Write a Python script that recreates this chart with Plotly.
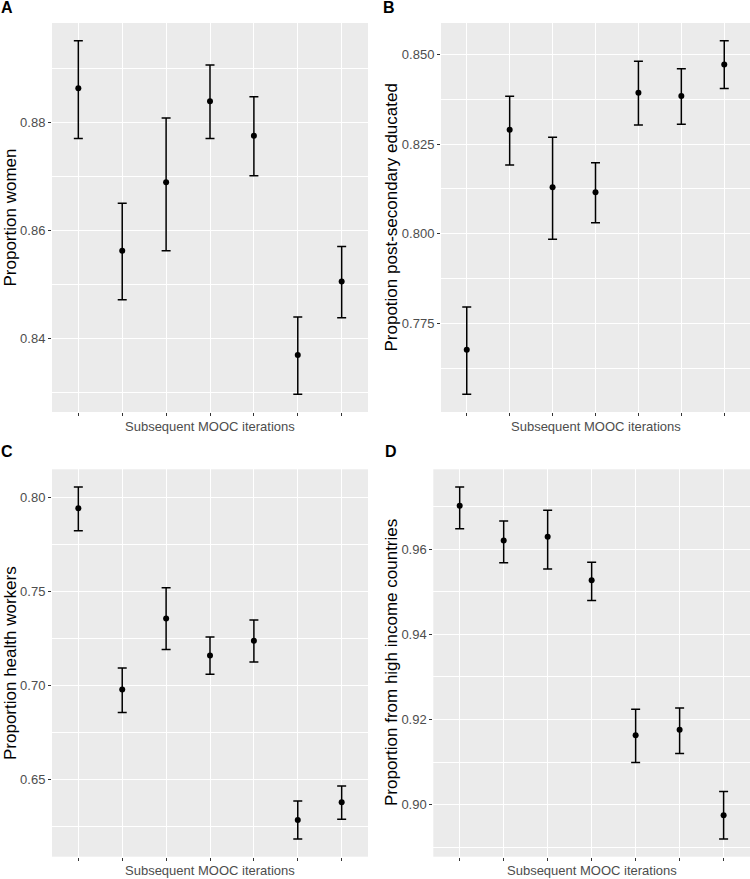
import plotly.graph_objects as go

# ---- data ----
iterations = [1, 2, 3, 4, 5, 6, 7]

women_mean = [0.8863, 0.8562, 0.8689, 0.8839, 0.8775, 0.8369, 0.8505]
women_lower = [0.8770, 0.8471, 0.8562, 0.8770, 0.8701, 0.8296, 0.8438]
women_upper = [0.8951, 0.8650, 0.8808, 0.8906, 0.8847, 0.8439, 0.8570]

edu_mean = [0.7677, 0.8290, 0.8130, 0.8116, 0.8393, 0.8384, 0.8472]
edu_lower = [0.7553, 0.8192, 0.7985, 0.8031, 0.8303, 0.8305, 0.8405]
edu_upper = [0.7796, 0.8383, 0.8269, 0.8198, 0.8481, 0.8460, 0.8538]

health_mean = [0.7943, 0.6977, 0.7356, 0.7159, 0.7237, 0.6283, 0.6377]
health_lower = [0.7823, 0.6855, 0.7190, 0.7058, 0.7124, 0.6181, 0.6287]
health_upper = [0.8056, 0.7092, 0.7519, 0.7257, 0.7347, 0.6384, 0.6464]

income_mean = [0.9702, 0.9620, 0.9629, 0.9527, 0.9163, 0.9176, 0.8975]
income_lower = [0.9648, 0.9568, 0.9553, 0.9479, 0.9099, 0.9120, 0.8919]
income_upper = [0.9746, 0.9666, 0.9691, 0.9569, 0.9224, 0.9227, 0.9031]

x_title = "Subsequent MOOC iterations"
panel_labels = ["A", "B", "C", "D"]
y_titles = ["Proportion women", "Propotion post-secondary educated",
            "Proportion health workers", "Proportion from high income countries"]
# (tick0, major step, minor step, tick format)
y_ticks = [
    (0.84, 0.02, 0.01, ".2f"),
    (0.775, 0.025, 0.0125, ".3f"),
    (0.65, 0.05, 0.025, ".2f"),
    (0.90, 0.02, 0.01, ".2f"),
]

panels = [
    (women_mean, women_lower, women_upper),
    (edu_mean, edu_lower, edu_upper),
    (health_mean, health_lower, health_upper),
    (income_mean, income_lower, income_upper),
]

W, H = 750, 879
# plot areas in pixels: (left, right, top, bottom)
areas = [
    (52, 368, 23, 412),
    (441, 750, 23, 412),
    (52, 368, 469.3, 856.7),
    (433.3, 750, 469.3, 856.7),
]
ytitle_x = [10, 391, 10, 391]
xtitle_y = [426.5, 426.5, 870.5, 870.5]
label_pos = [(0, 7), (382, 7), (0, 451), (384, 451)]

FONT = "Liberation Sans, Arial, sans-serif"

fig = go.Figure()
annotations = []
for i, (mean, lo, hi) in enumerate(panels):
    n = i + 1
    xa = "x" if n == 1 else f"x{n}"
    ya = "y" if n == 1 else f"y{n}"
    fig.add_trace(go.Scatter(
        x=iterations, y=mean, mode="markers",
        marker=dict(color="black", size=6),
        error_y=dict(type="data", symmetric=False,
                     array=[h - m for h, m in zip(hi, mean)],
                     arrayminus=[m - l for m, l in zip(mean, lo)],
                     color="black", thickness=1.5, width=4.5),
        xaxis=xa, yaxis=ya, showlegend=False, hoverinfo="x+y",
    ))
    l, r, t, b = areas[i]
    span = max(hi) - min(lo)
    yr = [min(lo) - 0.05 * span, max(hi) + 0.05 * span]
    tick0, dt, mdt, fmt = y_ticks[i]
    xkey = "xaxis" if n == 1 else f"xaxis{n}"
    ykey = "yaxis" if n == 1 else f"yaxis{n}"
    fig.update_layout({
        xkey: dict(domain=[l / W, r / W], anchor=ya, range=[0.4, 7.6],
                   tickmode="array", tickvals=iterations,
                   ticktext=["" for _ in iterations],
                   ticks="outside", ticklen=3, tickwidth=1, tickcolor="#333333",
                   showgrid=True, gridcolor="white", gridwidth=1.1,
                   zeroline=False, showline=False, fixedrange=True),
        ykey: dict(domain=[1 - b / H, 1 - t / H], anchor=xa, range=yr,
                   tick0=tick0, dtick=dt, tickformat=fmt,
                   ticks="outside", ticklen=3, tickwidth=1, tickcolor="#333333",
                   tickfont=dict(family=FONT, size=13, color="#4D4D4D"),
                   showgrid=True, gridcolor="white", gridwidth=1.1,
                   minor=dict(tick0=tick0, dtick=mdt, showgrid=True,
                              gridcolor="white", gridwidth=0.5, ticks=""),
                   zeroline=False, showline=False, fixedrange=True),
    })
    annotations.append(dict(
        text=x_title, xref="paper", yref="paper",
        x=(l + r) / 2 / W, y=1 - xtitle_y[i] / H,
        xanchor="center", yanchor="middle", showarrow=False, borderpad=0,
        font=dict(family=FONT, size=13, color="#4D4D4D")))
    annotations.append(dict(
        text=y_titles[i], xref="paper", yref="paper",
        x=ytitle_x[i] / W, y=1 - (t + b) / 2 / H, textangle=-90,
        xanchor="center", yanchor="middle", showarrow=False, borderpad=0,
        font=dict(family=FONT, size=17, color="black")))
    lx, ly = label_pos[i]
    annotations.append(dict(
        text=f"<b>{panel_labels[i]}</b>", xref="paper", yref="paper",
        x=lx / W, y=1 - ly / H, xanchor="left", yanchor="middle",
        showarrow=False, borderpad=0,
        font=dict(family=FONT, size=16, color="black")))

fig.update_layout(
    width=W, height=H, margin=dict(l=0, r=0, t=0, b=0),
    paper_bgcolor="white", plot_bgcolor="#EBEBEB",
    annotations=annotations, font=dict(family=FONT),
)

fig.write_html(
    "out.html",
    config={"displayModeBar": False},
    post_script="document.body.style.margin='0';document.body.style.padding='0';"
                "document.body.style.overflow='hidden';",
)
